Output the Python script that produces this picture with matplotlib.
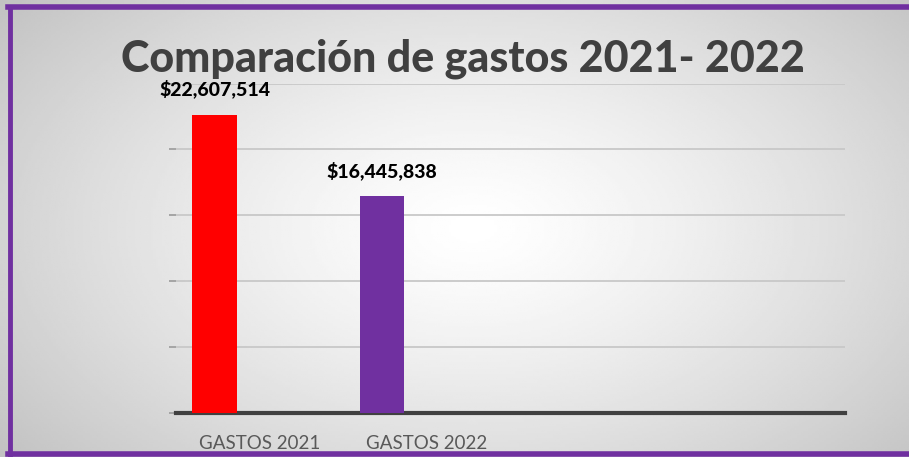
import numpy as np
import matplotlib
matplotlib.use("Agg")
from matplotlib import pyplot as plt
from matplotlib.lines import Line2D

categorias = ["GASTOS 2021", "GASTOS 2022", "", ""]
valores = [22607514, 16445838]
colores = ["#FF0000", "#7030A0"]
etiquetas = ["$22,607,514", "$16,445,838"]
titulo = "Comparación de gastos 2021- 2022"

plt.rcParams['font.family'] = ['Lato', 'DejaVu Sans']

fig = plt.figure(figsize=(9.09, 4.57), dpi=100)

# fondo degradado radial
bg = fig.add_axes([0, 0, 1, 1], zorder=0)
xx, yy = np.meshgrid(np.linspace(0, 1, 400), np.linspace(0, 1, 200))
r = np.sqrt(((xx - 0.52) / 0.75) ** 2 + ((yy - 0.5) / 0.9) ** 2)
g = np.clip(1.0 - 0.28 * r ** 1.3, 0, 1)
bg.imshow(g, cmap="gray", vmin=0, vmax=1, aspect="auto", extent=[0, 1, 0, 1])
bg.set_xlim(0, 1); bg.set_ylim(0, 1)
bg.axis("off")

ax = fig.add_axes([176 / 909, 44 / 457, 669 / 909, 329.5 / 457], zorder=1)
ax.patch.set_alpha(0)
x = np.arange(len(categorias))
ax.bar(x[:len(valores)] - 0.27, valores, width=0.264, color=colores, zorder=3)
for xi, v, t in zip(x, valores, etiquetas):
    ax.text(xi - 0.27, v + 1.25e6, t, ha="center", va="bottom",
            fontsize=14, fontweight="black", color="black")

ax.set_xlim(-0.5, 3.5)
ax.set_ylim(0, 25e6)
ax.set_yticks(np.arange(0, 25e6 + 1, 5e6))
ax.yaxis.grid(True, color="#c8c8c8", lw=1.3, zorder=0)
ax.set_yticklabels([])
ax.tick_params(axis="y", length=5, color="#a0a0a0", width=1.3)
ax.set_xticks(x)
ax.set_xticklabels(categorias, fontsize=13.5, color="#595959")
ax.tick_params(axis="x", length=0, pad=16)
for s in ["top", "right", "left"]:
    ax.spines[s].set_visible(False)
ax.spines["bottom"].set_color("#404040")
ax.spines["bottom"].set_linewidth(3)

fig.text(463 / 909, 1 - 59 / 457, titulo, ha="center", va="center",
         fontsize=31, fontweight="black", color="#404040")

# marco morado
morado = "#7030A0"
fig.add_artist(Line2D([10 / 909, 10 / 909], [0, 1 - 7 / 457], color=morado, lw=3.5,
                      transform=fig.transFigure, zorder=10))
fig.add_artist(Line2D([8 / 909, 1], [1 - 7 / 457, 1 - 7 / 457], color=morado, lw=4,
                      transform=fig.transFigure, zorder=10))
fig.add_artist(Line2D([8 / 909, 1], [3 / 457, 3 / 457], color=morado, lw=4,
                      transform=fig.transFigure, zorder=10))

fig.savefig("out.png", dpi=100)
